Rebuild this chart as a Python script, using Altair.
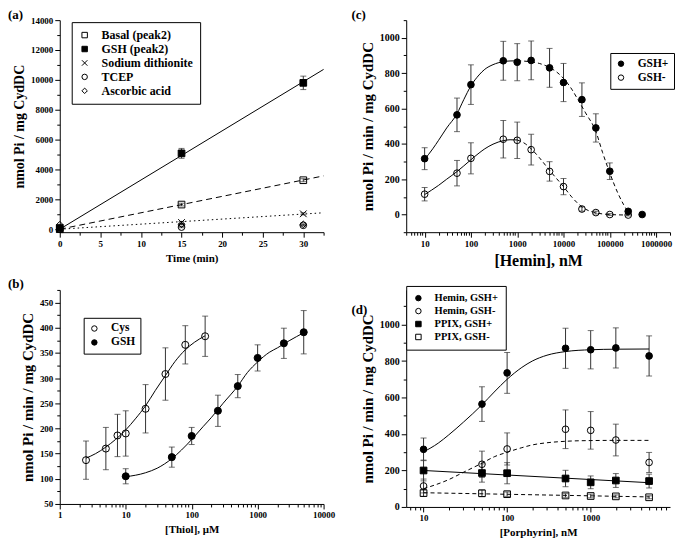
import altair as alt
import pandas as pd

FONT = "Liberation Serif"
INK = "black"
ERR = "#333333"

# ---------------- Panel (a) ----------------
a_series = ["Basal (peak2)", "GSH (peak2)", "Sodium dithionite", "TCEP", "Ascorbic acid"]
a_time = [0, 15, 30]
a_basal = [0, 1650, 3280]
a_basal_err = [0, 90, 100]
a_gsh = [80, 5080, 9800]
a_gsh_err = [0, 330, 450]
a_dith = [0, 450, 1030]
a_dith_err = [0, 60, 70]
a_tcep = [0, 140, 260]
a_tcep_err = [0, 40, 40]
a_asc = [300, 330, 320]
a_asc_err = [0, 40, 40]
a_fit_time = [0, 32.5]
a_fit_gsh = [0, 10700]
a_fit_basal = [0, 3570]
a_fit_dith = [0, 1100]
a_xticks = [0, 2.5, 5, 7.5, 10, 12.5, 15, 17.5, 20, 22.5, 25, 27.5, 30, 32.5]
a_yticks = [0, 1000, 2000, 3000, 4000, 5000, 6000, 7000, 8000, 9000, 10000,
            11000, 12000, 13000, 14000]

# ---------------- Panel (b) ----------------
b_series = ["Cys", "GSH"]
b_cys_x = [2.5, 5, 7.5, 10, 20, 40, 80, 160]
b_cys_y = [137, 160, 186, 190, 239, 308, 366, 383]
b_cys_err = [38, 42, 42, 45, 48, 52, 38, 40]
b_gsh_x = [10, 50, 100, 250, 500, 1000, 2500, 5000]
b_gsh_y = [105, 143, 185, 235, 284, 340, 369, 391]
b_gsh_err = [15, 20, 17, 31, 23, 26, 30, 43]
b_cys_fit_x = [2.5, 3.5, 5, 7, 10, 14, 20, 28, 40, 56, 80, 110, 160]
b_cys_fit_y = [141, 150, 163, 178, 197, 219, 245, 275, 305, 333, 356, 371, 384]
b_gsh_fit_x = [10, 20, 30, 50, 70, 100, 150, 200, 300, 500, 700, 1000, 1500, 2000, 3000, 5000]
b_gsh_fit_y = [104, 112, 121, 140, 157, 178, 204, 222, 250, 284, 311, 332, 351, 360, 374, 390]
b_xticks = [1, 2, 3, 4, 5, 6, 7, 8, 9, 10, 20, 30, 40, 50, 60, 70, 80, 90,
            100, 200, 300, 400, 500, 600, 700, 800, 900,
            1000, 2000, 3000, 4000, 5000, 6000, 7000, 8000, 9000, 10000]
b_yticks = [50, 75, 100, 125, 150, 175, 200, 225, 250, 275, 300, 325, 350,
            375, 400, 425, 450, 475]

# ---------------- Panel (c) ----------------
c_series = ["GSH+", "GSH-"]
c_p_x = [10, 50, 100, 500, 1000, 2000, 5000, 10000, 25000, 50000, 100000, 250000, 500000]
c_p_y = [316, 564, 735, 870, 862, 872, 830, 747, 650, 490, 245, 18, 0]
c_p_err = [62, 95, 112, 110, 105, 110, 110, 108, 95, 80, 47, 10, 0]
c_m_x = [10, 50, 100, 500, 1000, 2000, 5000, 10000, 25000, 50000, 100000, 250000]
c_m_y = [115, 234, 318, 426, 420, 367, 244, 158, 31, 11, 0, -3]
c_m_err = [38, 72, 88, 106, 103, 87, 55, 46, 12, 8, 5, 5]
c_p_solid_x = [10, 15, 20, 30, 50, 70, 100, 150, 200, 300, 500, 700, 1000]
c_p_solid_y = [312, 372, 420, 490, 570, 650, 728, 790, 822, 848, 865, 869, 870]
c_p_dash_x = [1000, 2000, 3000, 5000, 7000, 10000, 15000, 20000, 30000, 50000, 70000,
              100000, 150000, 200000, 250000]
c_p_dash_y = [870, 864, 855, 832, 808, 770, 710, 655, 575, 470, 350, 235, 120, 55, 15]
c_m_solid_x = [10, 20, 30, 50, 70, 100, 150, 200, 300, 500, 700, 1000]
c_m_solid_y = [113, 165, 200, 243, 275, 310, 348, 372, 398, 418, 423, 422]
c_m_dash_x = [1000, 1500, 2000, 3000, 5000, 7000, 10000, 15000, 20000, 30000, 50000,
              100000, 250000]
c_m_dash_y = [422, 400, 372, 322, 250, 205, 158, 100, 65, 30, 10, 0, -3]
c_xticks = [4, 5, 6, 7, 8, 9, 10, 20, 30, 40, 50, 60, 70, 80, 90,
            100, 200, 300, 400, 500, 600, 700, 800, 900,
            1000, 2000, 3000, 4000, 5000, 6000, 7000, 8000, 9000,
            10000, 20000, 30000, 40000, 50000, 60000, 70000, 80000, 90000,
            100000, 200000, 300000, 400000, 500000, 600000, 700000, 800000, 900000,
            1000000, 2000000]
c_yticks = [-100, 0, 100, 200, 300, 400, 500, 600, 700, 800, 900, 1000, 1100]

# ---------------- Panel (d) ----------------
d_series = ["Hemin, GSH+", "Hemin, GSH-", "PPIX, GSH+", "PPIX, GSH-"]
d_x = [10, 50, 100, 500, 1000, 2000, 5000]
d_hp = [316, 564, 735, 870, 862, 872, 828]
d_hp_err = [62, 95, 112, 110, 105, 110, 110]
d_hm = [115, 234, 318, 426, 420, 367, 244]
d_hm_err = [38, 72, 88, 106, 103, 87, 55]
d_pp = [200, 186, 185, 156, 135, 145, 142]
d_pp_err = [57, 50, 58, 45, 35, 38, 38]
d_pm = [76, 75, 70, 63, 60, 58, 53]
d_pm_err = [18, 18, 12, 10, 10, 8, 8]
d_hp_fit_x = [10, 15, 20, 30, 50, 70, 100, 150, 200, 300, 500, 1000, 2000, 5000]
d_hp_fit_y = [302, 350, 395, 465, 560, 630, 700, 765, 800, 832, 852, 862, 865, 866]
d_hm_fit_x = [10, 20, 30, 50, 70, 100, 150, 200, 300, 500, 1000, 2000, 5000]
d_hm_fit_y = [100, 150, 190, 240, 275, 300, 325, 340, 352, 360, 364, 365, 365]
d_pp_fit_x = [10, 5000]
d_pp_fit_y = [200, 133]
d_pm_fit_x = [10, 5000]
d_pm_fit_y = [78, 55]
d_xticks = [7, 8, 9, 10, 20, 30, 40, 50, 60, 70, 80, 90,
            100, 200, 300, 400, 500, 600, 700, 800, 900,
            1000, 2000, 3000, 4000, 5000, 6000, 7000, 8000]
d_yticks = [0, 100, 200, 300, 400, 500, 600, 700, 800, 900, 1000, 1100]

X_SHAPE = "M-1,-1L1,1M-1,1L1,-1"


def long_df(key, series, xs, ys, errs):
    rows = []
    for s, x, y, e in zip(series, xs, ys, errs):
        for xi, yi, ei in zip(x, y, e):
            rows.append({key: s, "x": xi, "y": yi, "err": ei})
    return pd.DataFrame(rows)


def lin_axis(values, step, title, lfs, tfs, tpad=4):
    test = f"abs(datum.value / {step} - round(datum.value / {step})) < 0.000001"
    return alt.Axis(values=values, title=title, format="d",
                    labelExpr=f"({test}) ? datum.label : ''",
                    tickSize={"condition": {"test": test, "value": 5}, "value": 3},
                    labelFontSize=lfs, titleFontSize=tfs, titlePadding=tpad)


def log_axis(values, title, lfs, tfs, tpad=4):
    test = "abs(log(datum.value) / LN10 - round(log(datum.value) / LN10)) < 0.000001"
    return alt.Axis(values=values, title=title, format="d",
                    labelExpr=f"({test}) ? datum.label : ''",
                    tickSize={"condition": {"test": test, "value": 5}, "value": 3},
                    labelFontSize=lfs, titleFontSize=tfs, titlePadding=tpad)


def make_legend(lx, ly, fs, pad, rowpad, sym):
    return alt.Legend(title=None, orient="none", legendX=lx, legendY=ly,
                      strokeColor=INK, fillColor="white", padding=pad,
                      labelFont=FONT, labelFontWeight="bold", labelFontSize=fs,
                      labelColor=INK, symbolStrokeColor=INK, symbolStrokeWidth=1,
                      symbolSize=sym, rowPadding=rowpad, labelOffset=11,
                      cornerRadius=0)


def build_panel(key, pts, series, shapes, fills, leg, xs, xax, ys, yax, fits,
                label, lx, ly, W, H, size):
    def X(f):
        return alt.X(f"{f}:Q", scale=xs, axis=xax)

    def Y(f):
        return alt.Y(f"{f}:Q", scale=ys, axis=yax)

    layers = []
    eb = pts[pts["err"] > 0].copy()
    eb["lo"] = eb["y"] - eb["err"]
    eb["hi"] = eb["y"] + eb["err"]
    layers.append(alt.Chart(eb).mark_errorbar(ticks={"size": 6}, color=ERR, thickness=1)
                  .encode(x=X("x"), y=Y("lo"), y2="hi:Q"))
    for fx, fy, dash in fits:
        d = pd.DataFrame({"x": fx, "y": fy})
        kw = dict(color=INK, strokeWidth=1, interpolate="monotone")
        if dash:
            kw["strokeDash"] = dash
        layers.append(alt.Chart(d).mark_line(**kw).encode(x=X("x"), y=Y("y")))
    layers.append(
        alt.Chart(pts).mark_point(size=size, strokeWidth=1, opacity=1)
        .encode(x=X("x"), y=Y("y"),
                shape=alt.Shape(f"{key}:N", scale=alt.Scale(domain=series, range=shapes), legend=leg),
                fill=alt.Fill(f"{key}:N", scale=alt.Scale(domain=series, range=fills), legend=leg),
                stroke=alt.Stroke(f"{key}:N", scale=alt.Scale(domain=series, range=[INK] * len(series)),
                                  legend=leg)))
    layers.append(
        alt.Chart(pd.DataFrame({"t": [label]}))
        .mark_text(font=FONT, fontWeight="bold", fontSize=13, align="left",
                   baseline="middle", color=INK)
        .encode(text="t:N", x=alt.value(lx), y=alt.value(ly)))
    return alt.layer(*layers).properties(width=W, height=H)


W = 265
H1 = 213
HB = 215
HD = 218

# Panel (a)
pa_df = long_df("sa", a_series, [a_time] * 5,
                [a_basal, a_gsh, a_dith, a_tcep, a_asc],
                [a_basal_err, a_gsh_err, a_dith_err, a_tcep_err, a_asc_err])
panel_a = build_panel(
    "sa", pa_df, a_series,
    ["square", "square", X_SHAPE, "circle", "diamond"],
    ["transparent", "black", "transparent", "transparent", "transparent"],
    make_legend(12, 2, 12, 7, 2, 30),
    alt.Scale(domain=[0, 32.5], nice=False, zero=False),
    lin_axis(a_xticks, 5, "Time (min)", 9, 11),
    alt.Scale(domain=[-200, 14000], nice=False, zero=False),
    lin_axis(a_yticks, 2000, "nmol Pi / mg CydDC", 9, 14),
    [(a_fit_time, a_fit_gsh, None), (a_fit_time, a_fit_basal, [6, 4]),
     (a_fit_time, a_fit_dith, [1.5, 3])],
    "(a)", -52, -5, W, H1, 45)

# Panel (b)
pb_df = long_df("sb", b_series, [b_cys_x, b_gsh_x], [b_cys_y, b_gsh_y], [b_cys_err, b_gsh_err])
panel_b = build_panel(
    "sb", pb_df, b_series, ["circle", "circle"], ["transparent", "black"],
    make_legend(24, 28, 11.5, 5, 1, 30),
    alt.Scale(type="log", domain=[1, 10000], nice=False),
    log_axis(b_xticks, "[Thiol], \u03bcM", 9, 11),
    alt.Scale(domain=[50, 475], nice=False, zero=False),
    lin_axis(b_yticks, 50, "nmol Pi / min / mg CydDC", 9, 15),
    [(b_cys_fit_x, b_cys_fit_y, None), (b_gsh_fit_x, b_gsh_fit_y, None)],
    "(b)", -52, -6, W, HB, 50)

# Panel (c)
pc_df = long_df("sc", c_series, [c_p_x, c_m_x], [c_p_y, c_m_y], [c_p_err, c_m_err])
panel_c = build_panel(
    "sc", pc_df, c_series, ["circle", "circle"], ["black", "transparent"],
    make_legend(W - 60, 33, 11.5, 5, 1, 30),
    alt.Scale(type="log", domain=[4, 2000000], nice=False),
    log_axis(c_xticks, "[Hemin], nM", 9, 16),
    alt.Scale(domain=[-100, 1100], nice=False, zero=False),
    lin_axis(c_yticks, 200, "nmol Pi / min / mg CydDC", 10, 15),
    [(c_p_solid_x, c_p_solid_y, None), (c_p_dash_x, c_p_dash_y, [4, 3]),
     (c_m_solid_x, c_m_solid_y, None), (c_m_dash_x, c_m_dash_y, [4, 3])],
    "(c)", -55, -5, W, H1, 45)

# Panel (d)
pd_df = long_df("sd", d_series, [d_x] * 4, [d_hp, d_hm, d_pp, d_pm],
                [d_hp_err, d_hm_err, d_pp_err, d_pm_err])
panel_d = build_panel(
    "sd", pd_df, d_series, ["circle", "circle", "square", "square"],
    ["black", "transparent", "black", "transparent"],
    make_legend(0, -4, 10.5, 7, 2, 30),
    alt.Scale(type="log", domain=[6.2, 8900], nice=False),
    log_axis(d_xticks, "[Porphyrin], nM", 9, 11),
    alt.Scale(domain=[0, 1190], nice=False, zero=False),
    lin_axis(d_yticks, 200, "nmol Pi / min / mg CydDC", 10, 15),
    [(d_hp_fit_x, d_hp_fit_y, None), (d_hm_fit_x, d_hm_fit_y, [4, 3]),
     (d_pp_fit_x, d_pp_fit_y, None), (d_pm_fit_x, d_pm_fit_y, [4, 3])],
    "(d)", -55, 20, W, HD, 45)

chart = (
    alt.concat(panel_a, panel_c, panel_b, panel_d, columns=2,
               spacing={"row": 10, "column": 16})
    .resolve_scale(shape="independent", fill="independent", stroke="independent")
    .resolve_legend(shape="independent", fill="independent", stroke="independent")
    .properties(padding=0)
    .configure_view(stroke=None)
    .configure_axis(labelFont=FONT, labelFontWeight="bold", labelColor=INK,
                    titleFont=FONT, titleFontWeight="bold", titleColor=INK,
                    domainColor=INK, tickColor=INK, domainWidth=1, tickWidth=1,
                    grid=False, labelFlush=False, labelOverlap=False,
                    labelPadding=2)
)

chart.save("out.html", embed_options={"renderer": "svg", "actions": False})
